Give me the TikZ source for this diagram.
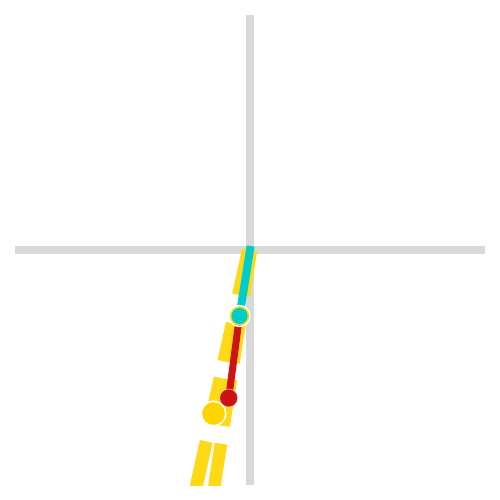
\documentclass[tikz,border=0pt]{standalone}
\usetikzlibrary{calc}
\definecolor{axisgray}{HTML}{D9D9D9}
\definecolor{ghostyellow}{HTML}{FFD816}
\definecolor{bobgold}{HTML}{FFD500}
\definecolor{armcyan}{HTML}{00CCCC}
\definecolor{armred}{HTML}{CC1414}
\tikzset{
  axisline/.style={draw=axisgray, line width=8pt},
  ghostline/.style={draw=ghostyellow, line width=13pt,
    dash pattern=on 46pt off 29pt on 39pt off 17pt on 47pt off 18pt on 100pt},
  armA/.style={draw=armcyan, line width=8pt, line cap=rect},
  armB/.style={draw=armred, line width=7pt},
}
\begin{document}
\begin{tikzpicture}[x=1pt,y=-1pt]
\useasboundingbox (0,0) rectangle (500,500);
\fill[white] (0,0) rectangle (500,500);
% axes
\coordinate (xl) at (15,250);
\coordinate (xr) at (485,250);
\coordinate (yt) at (250,15);
\coordinate (yb) at (250,485);
\draw[axisline] (xl) -- (xr);
\draw[axisline] (yt) -- (yb);
% key points
\coordinate (O) at (250,250);
\coordinate (b1) at (239.5,316);
\coordinate (b2) at (228.7,398);
\coordinate (g) at (213.5,413.5);
\coordinate (gA0) at (248.5,250);
\coordinate (gA1) at (194.4,495);
\coordinate (gB0) at (251,250);
\coordinate (gB1) at (213,495);
% ghost dashed lines
\begin{scope}
\clip (0,0) rectangle (500,485);
\draw[ghostline] (gA0) -- (gA1);
\draw[ghostline, line width=12.5pt] (gB0) -- (gB1);
\end{scope}
% ghost bob
\fill[bobgold] (g) circle[radius=11.5];
\draw[white, line width=1.5pt] (g) circle[radius=12.25];
% arms
\draw[armA] (O) -- (b1);
\draw[armB] (b1) -- (b2);
% bobs
\draw[white, line width=1.6pt] (b1) circle[radius=10.4];
\fill[bobgold] (b1) circle[radius=9.6];
\fill[armcyan] (b1) circle[radius=8];
\fill[armred] (b2) circle[radius=9];
\draw[white, opacity=0.5, line width=0.8pt] (b2) circle[radius=9];
\end{tikzpicture}
\end{document}
